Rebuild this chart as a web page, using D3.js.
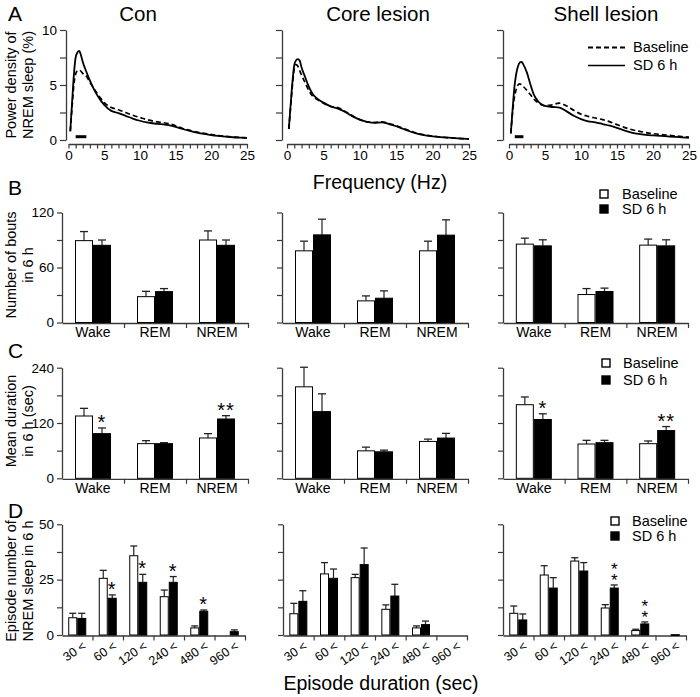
<!DOCTYPE html>
<html><head><meta charset="utf-8">
<script src="https://cdn.jsdelivr.net/npm/d3@7"></script>
<style>body{margin:0;background:#fff}svg{display:block}text{font-family:Arial,"Liberation Sans",Helvetica,sans-serif;fill:#000}</style>
</head><body><svg id="c" width="700" height="697"></svg>
<script>
// ---------- DATA ----------
const groupNames = ["Con", "Core lesion", "Shell lesion"];
const seriesNames = ["Baseline", "SD 6 h"];
const freq = [0.25,0.5,0.75,1,1.25,1.5,1.75,2,2.5,3,3.5,4,4.5,5,6,7,8,9,10,11,12,13,14,15,16,17,18,19,20,21,22,23,24,25];
const conBase  = [0.8,3.0,5.0,6.0,6.3,6.35,6.25,6.05,5.8,5.25,4.75,4.25,3.8,3.4,2.95,2.75,2.5,2.25,2.05,1.85,1.7,1.6,1.5,1.3,1.05,0.88,0.72,0.6,0.5,0.4,0.33,0.27,0.23,0.2];
const conSD    = [0.8,3.4,5.9,7.5,7.95,8.1,7.7,7.1,6.2,5.4,4.7,4.1,3.6,3.2,2.65,2.45,2.2,1.95,1.75,1.6,1.5,1.45,1.35,1.2,1.0,0.82,0.66,0.55,0.45,0.37,0.3,0.25,0.22,0.2];
const coreBase = [1.0,3.0,5.0,6.5,6.85,6.7,6.3,5.9,5.2,4.5,4.0,3.75,3.55,3.35,3.05,2.95,2.6,2.2,1.85,1.65,1.6,1.65,1.5,1.3,1.05,0.8,0.6,0.45,0.35,0.28,0.22,0.17,0.13,0.1];
const coreSD   = [1.0,3.2,5.3,6.8,7.25,7.35,7.2,6.6,5.7,4.85,4.2,3.85,3.6,3.4,3.05,2.85,2.55,2.15,1.85,1.65,1.55,1.6,1.45,1.25,1.0,0.75,0.55,0.42,0.33,0.27,0.22,0.17,0.13,0.1];
const shellBase= [0.6,2.5,3.9,4.6,5.0,5.1,5.0,4.85,4.5,4.1,3.7,3.4,3.2,3.1,3.2,3.35,3.1,2.7,2.35,2.15,2.0,1.85,1.65,1.4,1.15,0.95,0.8,0.68,0.58,0.5,0.45,0.38,0.32,0.27];
const shellSD  = [0.6,2.8,4.8,6.0,6.7,7.05,7.1,6.85,6.1,5.0,4.05,3.55,3.25,3.1,3.0,2.95,2.6,2.2,1.9,1.7,1.6,1.45,1.3,1.1,0.88,0.68,0.55,0.47,0.42,0.38,0.33,0.28,0.24,0.2];
const sigBands = [[1, 2.5], null, [0.8, 2]];
const freqTicks = [0,5,10,15,20,25];
const powerTicks = [0,5,10];

const stateCats = ["Wake", "REM", "NREM"];
const boutsBase    = [[89.3,28.2,90.0],[78.2,23.6,78.2],[85.5,30.5,84.4]];
const boutsBaseErr = [[9.9,5.8,9.9],[10.5,5.4,10.5],[6.5,6.5,6.6]];
const boutsSD      = [[84.2,33.7,84.2],[95.6,26.5,95.3],[83.6,33.8,83.6]];
const boutsSDErr   = [[5.8,3.3,5.8],[17.1,8.0,16.7],[6.6,3.7,6.6]];
const boutsTicks = [0,60,120];

const durBase    = [[135.2,75.2,87.5],[198.5,59.6,80.0],[159.7,74.4,75.1]];
const durBaseErr = [[16.6,6.5,9.4],[42.5,8.0,5.0],[16.8,8.0,5.9]];
const durSD      = [[96.9,75.2,128.7],[144.7,57.5,87.3],[127.6,77.3,103.6]];
const durSDErr   = [[12.3,2.2,7.2],[38.6,3.6,10.2],[12.4,5.1,8.7]];
const durStars   = [["*","","**"],["","",""],["*","","**"]];
const durTicks = [0,120,240];

const epiCats = ["30 <","60 <","120 <","240 <","480 <","960 <"];
const epiBase    = [[7.8,25.6,35.8,17.3,3.2,0],[9.6,27.6,25.9,11.6,3.2,0],[9.8,27.1,33.4,12.2,2.0,0]];
const epiBaseErr = [[2.0,3.6,4.4,3.0,0.9,0],[4.7,5.1,1.5,2.0,0.9,0],[3.3,4.2,1.5,1.5,0.6,0]];
const epiSD      = [[7.5,16.6,23.8,23.8,10.7,1.5],[15.2,25.6,31.8,17.6,4.7,0],[6.8,21.2,28.9,21.2,5.0,0.15]];
const epiSDErr   = [[2.3,1.5,3.6,2.6,0.6,0.8],[4.8,4.2,7.5,5.3,1.6,0],[2.7,4.7,3.8,1.4,0.9,0]];
const epiStars   = [["","*","*","*","*",""],["","","","","",""],["","","","**","**",""]];
const epiTicks = [0,25,50];

const rowLetters = ["A","B","C","D"];
const yTitles = [["Power density of","NREM sleep (%)"],["Number of bouts","in 6 h"],["Mean duration","in 6 h (sec)"],["Episode number of","NREM sleep in 6 h"]];

// ---------- DRAW ----------
const svg = d3.select("#c");
const AX = "#3a3a3a";
function styleAxis(g){
  g.selectAll("path.domain").attr("stroke",AX).attr("stroke-width",1.3);
  g.selectAll(".tick line").attr("stroke",AX).attr("stroke-width",1.2);
  g.selectAll(".tick text").attr("fill","#000").style("font-family","Arial, 'Liberation Sans', sans-serif");
}

const letterY = [21,195,358,518];
rowLetters.forEach((L,i)=>svg.append("text").attr("x",8).attr("y",letterY[i]).attr("font-size",21).text(L));
const titleCY = [85,265,421,581];
yTitles.forEach((t,i)=>{
  t.forEach((s,j)=>svg.append("text").attr("transform",`translate(${j?33:16},${titleCY[i]}) rotate(-90)`)
    .attr("text-anchor","middle").attr("font-size",14.5).text(s));
});
const gTitleX = [138,378,606];
groupNames.forEach((n,i)=>svg.append("text").attr("x",gTitleX[i]).attr("y",21).attr("text-anchor","middle").attr("font-size",20.5).text(n));
svg.append("text").attr("x",380).attr("y",189).attr("text-anchor","middle").attr("font-size",19.5).text("Frequency (Hz)");
svg.append("text").attr("x",381).attr("y",690).attr("text-anchor","middle").attr("font-size",19.5).text("Episode duration (sec)");

// ---- Row A ----
const aLayout = [{yx:66,x0:68.5,x1:247},{yx:282,x0:287,x1:469},{yx:503,x0:509,x1:689}];
const aData = [[conBase,conSD],[coreBase,coreSD],[shellBase,shellSD]];
aLayout.forEach((L,i)=>{
  const x = d3.scaleLinear().domain([0,25]).range([L.x0,L.x1]);
  const y = d3.scaleLinear().domain([0,10]).range([140,30]);
  const gx = svg.append("g").attr("transform","translate(0,144)")
    .call(d3.axisBottom(x).tickValues(d3.range(0,26)).tickFormat(d=>freqTicks.includes(d)?d:"").tickSize(4.5).tickSizeOuter(0).tickPadding(2));
  gx.selectAll(".tick text").attr("font-size",13.5);
  styleAxis(gx);
  const gy = svg.append("g").attr("transform",`translate(${L.yx},0)`)
    .call(d3.axisLeft(y).tickValues([0,2.5,5,7.5,10]).tickFormat(d=>(i===0&&powerTicks.includes(d))?d:"").tickSize(6).tickSizeOuter(0).tickPadding(3));
  gy.selectAll(".tick text").attr("font-size",13.5);
  styleAxis(gy);
  const line = d3.line().x((d,k)=>x(freq[k])).y(d=>y(d)).curve(d3.curveMonotoneX);
  svg.append("path").datum(aData[i][0]).attr("d",line).attr("fill","none").attr("stroke","#000").attr("stroke-width",1.7).attr("stroke-dasharray","5,3");
  svg.append("path").datum(aData[i][1]).attr("d",line).attr("fill","none").attr("stroke","#000").attr("stroke-width",1.8);
  if(sigBands[i]) svg.append("line").attr("x1",x(sigBands[i][0])).attr("x2",x(sigBands[i][1]))
    .attr("y1",y(0.3)).attr("y2",y(0.3)).attr("stroke","#000").attr("stroke-width",3);
});
svg.append("line").attr("x1",588).attr("x2",625).attr("y1",47.5).attr("y2",47.5).attr("stroke","#000").attr("stroke-width",2).attr("stroke-dasharray","5,3");
svg.append("line").attr("x1",588).attr("x2",625).attr("y1",65.5).attr("y2",65.5).attr("stroke","#000").attr("stroke-width",1.3);
svg.append("text").attr("x",633).attr("y",52).attr("font-size",14.5).text(seriesNames[0]);
svg.append("text").attr("x",633).attr("y",70).attr("font-size",14.5).text(seriesNames[1]);

// ---- Bar panels ----
const barX = [[62,248],[282,468],[503,688]];
const epiX = [[62,245],[283,467],[503,686]];
function barPanel(o){
  const x = d3.scaleBand().domain(o.cats).range(o.xr);
  const y = d3.scaleLinear().domain([0,o.max]).range(o.yr);
  const n = o.cats.length;
  const xb = d3.scaleLinear().domain([0,n]).range(o.xr);
  const yb = o.yr[0]+0.5;
  const gxb = svg.append("g").attr("transform",`translate(0,${yb})`)
    .call(d3.axisBottom(xb).tickValues(d3.range(1,n+1)).tickFormat("").tickSize(5).tickSizeOuter(0));
  styleAxis(gxb);
  const gxl = svg.append("g").attr("transform",`translate(0,${yb})`).call(d3.axisBottom(x).tickSize(0).tickPadding(o.rot?10:4));
  gxl.select("path.domain").remove();
  gxl.selectAll(".tick text").attr("font-size",o.rot?12.5:14);
  if(o.rot){
    gxl.selectAll(".tick text").attr("text-anchor","end").attr("dy",0)
      .attr("transform","translate(4,4) rotate(-35)");
  }
  styleAxis(gxl);
  const step = o.ticks[1]/2;
  const gy = svg.append("g").attr("transform",`translate(${o.xr[0]},0)`)
    .call(d3.axisLeft(y).tickValues(d3.range(0,o.max+step/2,step)).tickFormat(d=>(o.labels&&o.ticks.includes(d))?d:"").tickSize(5).tickSizeOuter(0).tickPadding(3));
  gy.selectAll(".tick text").attr("font-size",13.5);
  styleAxis(gy);
  const bw = o.bw;
  const groups = o.cats.map((c,k)=>({c,k}));
  const g = svg.append("g");
  const series = [{v:o.base,e:o.baseErr,fill:"#fff",off:-bw},{v:o.sd,e:o.sdErr,fill:"#000",off:0}];
  series.forEach(s=>{
    groups.forEach(({c,k})=>{
      const v=s.v[k], e=s.e[k];
      if(v<=0) return;
      const cx = x(c)+x.bandwidth()/2+s.off;
      if(e>0){
        g.append("line").attr("x1",cx+bw/2).attr("x2",cx+bw/2).attr("y1",y(v)).attr("y2",y(v+e)).attr("stroke","#222").attr("stroke-width",1.2);
        g.append("line").attr("x1",cx+bw/2-o.cap).attr("x2",cx+bw/2+o.cap).attr("y1",y(v+e)).attr("y2",y(v+e)).attr("stroke","#222").attr("stroke-width",1.3);
      }
      g.append("rect").attr("x",cx+0.5).attr("y",y(v)).attr("width",bw-1).attr("height",Math.max(0.8,y(0)-y(v)))
        .attr("fill",s.fill).attr("stroke","#000").attr("stroke-width",1);
    });
  });
  if(o.stars){
    groups.forEach(({c,k})=>{
      const st=o.stars[k]; if(!st) return;
      const cx = x(c)+x.bandwidth()/2+bw/2;
      const top = y(o.sd[k]+o.sdErr[k]);
      if(o.stack){
        g.append("text").attr("x",cx).attr("y",top-25)
          .style("writing-mode","vertical-rl").style("text-orientation","upright")
          .style("letter-spacing","-8px").attr("font-size",17).text(st);
      } else {
        g.append("text").attr("x",cx).attr("y",top+1).attr("text-anchor","middle").attr("font-size",20).attr("letter-spacing",1).text(st);
      }
    });
  }
}
for(let i=0;i<3;i++){
  barPanel({cats:stateCats,xr:barX[i],yr:[322.5,212.5],max:120,ticks:boutsTicks,labels:i===0,base:boutsBase[i],baseErr:boutsBaseErr[i],sd:boutsSD[i],sdErr:boutsSDErr[i],bw:18,cap:4});
  barPanel({cats:stateCats,xr:barX[i],yr:[478.3,367.7],max:240,ticks:durTicks,labels:i===0,base:durBase[i],baseErr:durBaseErr[i],sd:durSD[i],sdErr:durSDErr[i],bw:18,cap:4,stars:durStars[i]});
  barPanel({cats:epiCats,xr:epiX[i],yr:[635,524.3],max:50,ticks:epiTicks,labels:i===0,base:epiBase[i],baseErr:epiBaseErr[i],sd:epiSD[i],sdErr:epiSDErr[i],bw:9,cap:3.5,stars:epiStars[i],stack:i===2,rot:true});
}
const sqLeg = [{x:600,y:[194,209],tx:622},{x:602,y:[363,380],tx:623},{x:611,y:[521,536],tx:632}];
sqLeg.forEach(L=>{
  ["#fff","#000"].forEach((f,j)=>{
    svg.append("rect").attr("x",L.x).attr("y",L.y[j]-4).attr("width",8).attr("height",8).attr("fill",f).attr("stroke","#000").attr("stroke-width",1.4);
    svg.append("text").attr("x",L.tx).attr("y",L.y[j]+5).attr("font-size",14.5).text(seriesNames[j]);
  });
});
</script></body></html>
